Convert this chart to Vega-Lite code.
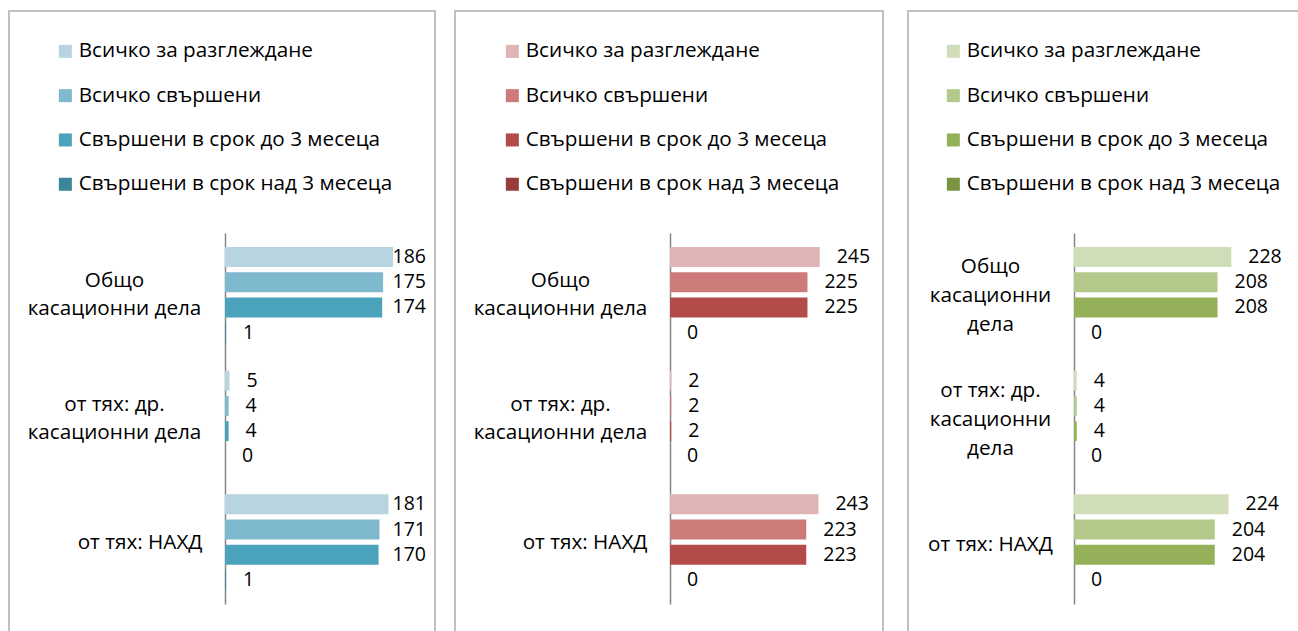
{
  "$schema": "https://vega.github.io/schema/vega-lite/v6.json",
  "padding": {"left": 8, "top": 10, "right": 0, "bottom": 0},
  "background": "white",
  "spacing": 23,
  "config": {"view": {"stroke": "#bfbfbf", "strokeWidth": 2}, "font": "Open Sans"},
  "resolve": {"scale": {"color": "independent", "x": "independent", "y": "independent", "yOffset": "independent"}, "legend": {"color": "independent"}},
  "datasets": {
    "d": [
      {"panel": 1, "cat": "Общо касационни дела", "series": "Всичко за разглеждане", "value": 186},
      {"panel": 1, "cat": "Общо касационни дела", "series": "Всичко свършени", "value": 175},
      {"panel": 1, "cat": "Общо касационни дела", "series": "Свършени в срок до 3 месеца", "value": 174},
      {"panel": 1, "cat": "Общо касационни дела", "series": "Свършени в срок над 3 месеца", "value": 1},
      {"panel": 1, "cat": "от тях: др. касационни дела", "series": "Всичко за разглеждане", "value": 5},
      {"panel": 1, "cat": "от тях: др. касационни дела", "series": "Всичко свършени", "value": 4},
      {"panel": 1, "cat": "от тях: др. касационни дела", "series": "Свършени в срок до 3 месеца", "value": 4},
      {"panel": 1, "cat": "от тях: др. касационни дела", "series": "Свършени в срок над 3 месеца", "value": 0},
      {"panel": 1, "cat": "от тях: НАХД", "series": "Всичко за разглеждане", "value": 181},
      {"panel": 1, "cat": "от тях: НАХД", "series": "Всичко свършени", "value": 171},
      {"panel": 1, "cat": "от тях: НАХД", "series": "Свършени в срок до 3 месеца", "value": 170},
      {"panel": 1, "cat": "от тях: НАХД", "series": "Свършени в срок над 3 месеца", "value": 1},
      {"panel": 2, "cat": "Общо касационни дела", "series": "Всичко за разглеждане", "value": 245},
      {"panel": 2, "cat": "Общо касационни дела", "series": "Всичко свършени", "value": 225},
      {"panel": 2, "cat": "Общо касационни дела", "series": "Свършени в срок до 3 месеца", "value": 225},
      {"panel": 2, "cat": "Общо касационни дела", "series": "Свършени в срок над 3 месеца", "value": 0},
      {"panel": 2, "cat": "от тях: др. касационни дела", "series": "Всичко за разглеждане", "value": 2},
      {"panel": 2, "cat": "от тях: др. касационни дела", "series": "Всичко свършени", "value": 2},
      {"panel": 2, "cat": "от тях: др. касационни дела", "series": "Свършени в срок до 3 месеца", "value": 2},
      {"panel": 2, "cat": "от тях: др. касационни дела", "series": "Свършени в срок над 3 месеца", "value": 0},
      {"panel": 2, "cat": "от тях: НАХД", "series": "Всичко за разглеждане", "value": 243},
      {"panel": 2, "cat": "от тях: НАХД", "series": "Всичко свършени", "value": 223},
      {"panel": 2, "cat": "от тях: НАХД", "series": "Свършени в срок до 3 месеца", "value": 223},
      {"panel": 2, "cat": "от тях: НАХД", "series": "Свършени в срок над 3 месеца", "value": 0},
      {"panel": 3, "cat": "Общо касационни дела", "series": "Всичко за разглеждане", "value": 228},
      {"panel": 3, "cat": "Общо касационни дела", "series": "Всичко свършени", "value": 208},
      {"panel": 3, "cat": "Общо касационни дела", "series": "Свършени в срок до 3 месеца", "value": 208},
      {"panel": 3, "cat": "Общо касационни дела", "series": "Свършени в срок над 3 месеца", "value": 0},
      {"panel": 3, "cat": "от тях: др. касационни дела", "series": "Всичко за разглеждане", "value": 4},
      {"panel": 3, "cat": "от тях: др. касационни дела", "series": "Всичко свършени", "value": 4},
      {"panel": 3, "cat": "от тях: др. касационни дела", "series": "Свършени в срок до 3 месеца", "value": 4},
      {"panel": 3, "cat": "от тях: др. касационни дела", "series": "Свършени в срок над 3 месеца", "value": 0},
      {"panel": 3, "cat": "от тях: НАХД", "series": "Всичко за разглеждане", "value": 224},
      {"panel": 3, "cat": "от тях: НАХД", "series": "Всичко свършени", "value": 204},
      {"panel": 3, "cat": "от тях: НАХД", "series": "Свършени в срок до 3 месеца", "value": 204},
      {"panel": 3, "cat": "от тях: НАХД", "series": "Свършени в срок над 3 месеца", "value": 0}
    ]
  },
  "hconcat": [
    {
      "spacing": 18,
      "resolve": {"scale": {"color": "independent", "x": "independent", "y": "independent", "yOffset": "independent"}, "legend": {"color": "independent"}},
      "hconcat": [
        {
          "width": 426,
          "height": 625,
          "data": {"name": "d"},
          "transform": [{"filter": "datum.panel == 1"}],
          "encoding": {
            "y": {
              "field": "cat", "type": "nominal",
              "sort": ["Общо касационни дела", "от тях: др. касационни дела", "от тях: НАХД"],
              "scale": {"range": [222, 593], "paddingInner": 0, "paddingOuter": 0},
              "axis": {
                "title": null, "offset": -216, "ticks": false, "domainColor": "#868686", "domainWidth": 1.5,
                "labelExpr": "datum.value == 'Общо касационни дела' ? ['Общо', 'касационни дела'] : datum.value == 'от тях: др. касационни дела' ? ['от тях: др.', 'касационни дела'] : datum.value",
                "labelAlign": {"condition": {"test": "datum.value == 'от тях: НАХД'", "value": "right"}, "value": "center"},
                "labelPadding": {"condition": {"test": "datum.value == 'от тях: НАХД'", "value": 23}, "value": 111},
                "labelOffset": {"condition": {"test": "datum.value == 'от тях: НАХД'", "value": 1}, "value": -14},
                "labelLineHeight": 28, "labelFontSize": 20.7, "labelFont": "Open Sans", "labelColor": "#000000", "labelLimit": 0
              }
            },
            "yOffset": {
              "field": "series", "type": "nominal",
              "sort": ["Всичко за разглеждане", "Всичко свършени", "Свършени в срок до 3 месеца", "Свършени в срок над 3 месеца"],
              "scale": {"paddingInner": 0.21, "paddingOuter": 0.555}
            }
          },
          "layer": [
            {
              "mark": {"type": "bar"},
              "encoding": {
                "x": {"field": "value", "type": "quantitative", "scale": {"domain": [0, 222.5], "range": [216, 417], "nice": false, "zero": true}, "axis": null},
                "color": {
                  "field": "series", "type": "nominal",
                  "scale": {"domain": ["Всичко за разглеждане", "Всичко свършени", "Свършени в срок до 3 месеца", "Свършени в срок над 3 месеца"], "range": ["#b7d4e0", "#7fb9cd", "#4ba2bb", "#3b8599"]},
                  "legend": {"title": null, "orient": "none", "legendX": 46, "legendY": 30, "symbolType": "square", "symbolSize": 169, "symbolStrokeWidth": 0, "symbolOpacity": 1, "labelFontSize": 20.7, "labelFont": "Open Sans", "labelColor": "#000000", "rowPadding": 22.3, "labelOffset": 3, "labelLimit": 0}
                }
              }
            },
            {
              "transform": [{"filter": "datum.value < 100"}],
              "mark": {"type": "text", "align": "left", "dx": 17, "baseline": "middle", "fontSize": 19.5, "font": "Open Sans", "color": "#000000"},
              "encoding": {"x": {"field": "value", "type": "quantitative"}, "text": {"field": "value", "type": "quantitative"}}
            },
            {
              "transform": [{"filter": "datum.value >= 100"}],
              "mark": {"type": "text", "align": "right", "baseline": "middle", "fontSize": 19.5, "font": "Open Sans", "color": "#000000"},
              "encoding": {"x": {"datum": 222.5}, "text": {"field": "value", "type": "quantitative"}}
            }
          ]
        },
        {
          "width": 428,
          "height": 625,
          "data": {"name": "d"},
          "transform": [{"filter": "datum.panel == 2"}],
          "encoding": {
            "y": {
              "field": "cat", "type": "nominal",
              "sort": ["Общо касационни дела", "от тях: др. касационни дела", "от тях: НАХД"],
              "scale": {"range": [222, 593], "paddingInner": 0, "paddingOuter": 0},
              "axis": {
                "title": null, "offset": -215, "ticks": false, "domainColor": "#868686", "domainWidth": 1.5,
                "labelExpr": "datum.value == 'Общо касационни дела' ? ['Общо', 'касационни дела'] : datum.value == 'от тях: др. касационни дела' ? ['от тях: др.', 'касационни дела'] : datum.value",
                "labelAlign": {"condition": {"test": "datum.value == 'от тях: НАХД'", "value": "right"}, "value": "center"},
                "labelPadding": {"condition": {"test": "datum.value == 'от тях: НАХД'", "value": 23}, "value": 110},
                "labelOffset": {"condition": {"test": "datum.value == 'от тях: НАХД'", "value": 1}, "value": -14},
                "labelLineHeight": 28, "labelFontSize": 20.7, "labelFont": "Open Sans", "labelColor": "#000000", "labelLimit": 0
              }
            },
            "yOffset": {
              "field": "series", "type": "nominal",
              "sort": ["Всичко за разглеждане", "Всичко свършени", "Свършени в срок до 3 месеца", "Свършени в срок над 3 месеца"],
              "scale": {"paddingInner": 0.21, "paddingOuter": 0.555}
            }
          },
          "layer": [
            {
              "mark": {"type": "bar"},
              "encoding": {
                "x": {"field": "value", "type": "quantitative", "scale": {"domain": [0, 300], "range": [215, 398.3], "nice": false, "zero": true}, "axis": null},
                "color": {
                  "field": "series", "type": "nominal",
                  "scale": {"domain": ["Всичко за разглеждане", "Всичко свършени", "Свършени в срок до 3 месеца", "Свършени в срок над 3 месеца"], "range": ["#dfb4b4", "#cc7b7a", "#b34b49", "#963c3a"]},
                  "legend": {"title": null, "orient": "none", "legendX": 47, "legendY": 30, "symbolType": "square", "symbolSize": 169, "symbolStrokeWidth": 0, "symbolOpacity": 1, "labelFontSize": 20.7, "labelFont": "Open Sans", "labelColor": "#000000", "rowPadding": 22.3, "labelOffset": 3, "labelLimit": 0}
                }
              }
            },
            {
              "mark": {"type": "text", "align": "left", "dx": 17, "baseline": "middle", "fontSize": 19.5, "font": "Open Sans", "color": "#000000"},
              "encoding": {"x": {"field": "value", "type": "quantitative"}, "text": {"field": "value", "type": "quantitative"}}
            }
          ]
        }
      ]
    },
    {
      "width": 420,
      "height": 625,
      "data": {"name": "d"},
      "transform": [{"filter": "datum.panel == 3"}],
      "encoding": {
        "y": {
          "field": "cat", "type": "nominal",
          "sort": ["Общо касационни дела", "от тях: др. касационни дела", "от тях: НАХД"],
          "scale": {"range": [222, 593], "paddingInner": 0, "paddingOuter": 0},
          "axis": {
            "title": null, "offset": -166, "ticks": false, "domainColor": "#868686", "domainWidth": 1.5,
            "labelExpr": "datum.value == 'Общо касационни дела' ? ['Общо', 'касационни', 'дела'] : datum.value == 'от тях: др. касационни дела' ? ['от тях: др.', 'касационни', 'дела'] : datum.value",
            "labelAlign": "center",
            "labelPadding": 84,
            "labelOffset": {"condition": {"test": "datum.value == 'от тях: НАХД'", "value": 3}, "value": -28},
            "labelLineHeight": 29, "labelFontSize": 20.7, "labelFont": "Open Sans", "labelColor": "#000000", "labelLimit": 0
          }
        },
        "yOffset": {
          "field": "series", "type": "nominal",
          "sort": ["Всичко за разглеждане", "Всичко свършени", "Свършени в срок до 3 месеца", "Свършени в срок над 3 месеца"],
          "scale": {"paddingInner": 0.21, "paddingOuter": 0.555}
        }
      },
      "layer": [
        {
          "mark": {"type": "bar"},
          "encoding": {
            "x": {"field": "value", "type": "quantitative", "scale": {"domain": [0, 250], "range": [166, 338.5], "nice": false, "zero": true}, "axis": null},
            "color": {
              "field": "series", "type": "nominal",
              "scale": {"domain": ["Всичко за разглеждане", "Всичко свършени", "Свършени в срок до 3 месеца", "Свършени в срок над 3 месеца"], "range": ["#d0ddb9", "#b3c98c", "#94b15a", "#7b9444"]},
              "legend": {"title": null, "orient": "none", "legendX": 35, "legendY": 30, "symbolType": "square", "symbolSize": 169, "symbolStrokeWidth": 0, "symbolOpacity": 1, "labelFontSize": 20.7, "labelFont": "Open Sans", "labelColor": "#000000", "rowPadding": 22.3, "labelOffset": 3, "labelLimit": 0}
            }
          }
        },
        {
          "mark": {"type": "text", "align": "left", "dx": 17, "baseline": "middle", "fontSize": 19.5, "font": "Open Sans", "color": "#000000"},
          "encoding": {"x": {"field": "value", "type": "quantitative"}, "text": {"field": "value", "type": "quantitative"}}
        }
      ]
    }
  ]
}
